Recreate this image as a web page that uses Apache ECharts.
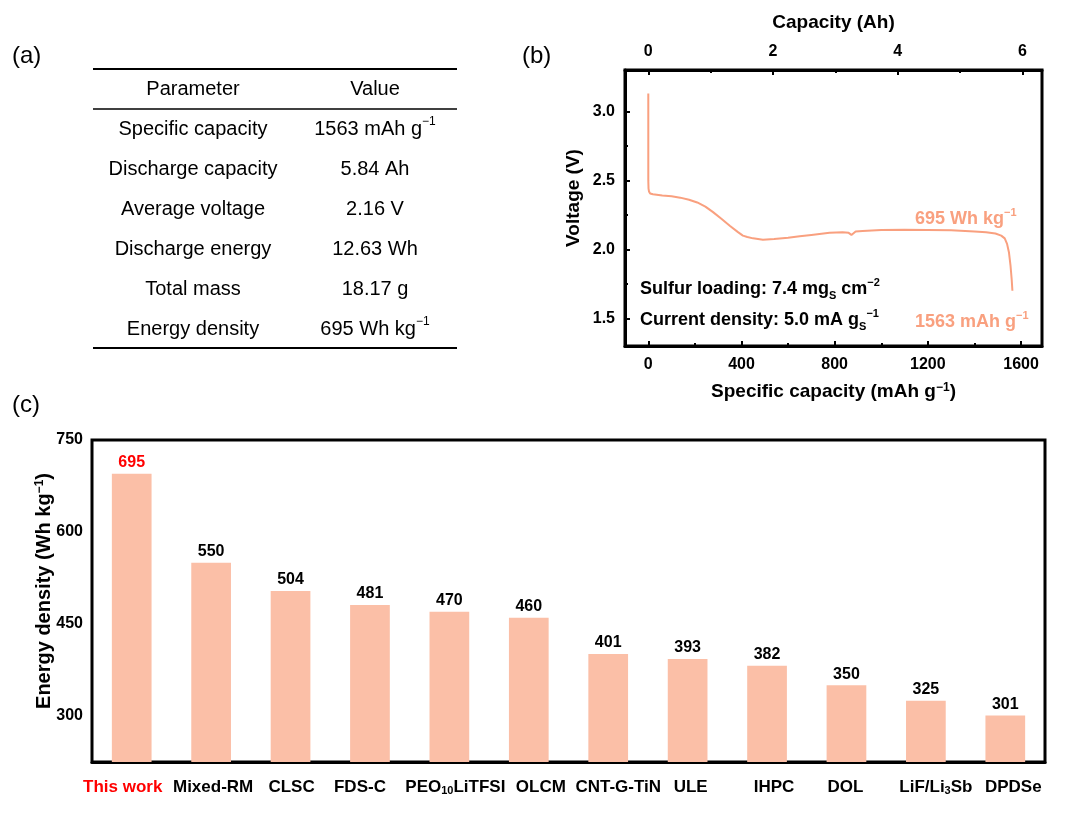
<!DOCTYPE html>
<html><head><meta charset="utf-8">
<script src="https://cdn.jsdelivr.net/npm/echarts@6/dist/echarts.min.js"></script>
<style>html,body{margin:0;padding:0;background:#fff}#c{width:1080px;height:822px}</style>
</head><body><div id="c"></div>
<script>
// ---------- data ----------
const tableHeader = ['Parameter', 'Value'];
const tableParams = ['Specific capacity', 'Discharge capacity', 'Average voltage', 'Discharge energy', 'Total mass', 'Energy density'];
const tableValues = ['1563 mAh g^{−1}', '5.84 Ah', '2.16 V', '12.63 Wh', '18.17 g', '695 Wh kg^{−1}'];

const specCapacity = [0, 0, 0, 1, 3, 8, 20, 60, 100, 137, 175, 210, 245, 278, 315, 351, 385, 406, 425, 450, 492, 540, 600, 650, 700, 778, 834, 860, 872, 880, 890, 920, 1000, 1100, 1200, 1300, 1400, 1450, 1490, 1515, 1530, 1540, 1548, 1555, 1560, 1563];
const voltage = [3.13, 2.8, 2.5, 2.44, 2.42, 2.405, 2.40, 2.39, 2.385, 2.375, 2.36, 2.34, 2.31, 2.27, 2.22, 2.17, 2.125, 2.10, 2.09, 2.08, 2.07, 2.075, 2.085, 2.095, 2.105, 2.12, 2.125, 2.12, 2.105, 2.11, 2.13, 2.133, 2.14, 2.142, 2.14, 2.138, 2.13, 2.125, 2.115, 2.10, 2.08, 2.04, 1.98, 1.88, 1.78, 1.70];
const capTicks = [0, 400, 800, 1200, 1600];
const capMinorTicks = [200, 600, 1000, 1400];
const ahTicks = [0, 2, 4, 6];
const ahMinorTicks = [1, 3, 5];
const voltTicks = [1.5, 2.0, 2.5, 3.0];
const voltMinorTicks = [1.75, 2.25, 2.75];
const dischargeAh = 5.84, specificCap = 1563;

const categories = ['This work', 'Mixed-RM', 'CLSC', 'FDS-C', 'PEO_{10}LiTFSI', 'OLCM', 'CNT-G-TiN', 'ULE', 'IHPC', 'DOL', 'LiF/Li_{3}Sb', 'DPDSe'];
const energyDensity = [695, 550, 504, 481, 470, 460, 401, 393, 382, 350, 325, 301];
const energyTicks = [300, 450, 600, 750];
const energyMinorTicks = [375, 525, 675];

// label nudges (style only, px): horizontal offset of each category label
const labelShift = [-9, 2, 1, -10, 6, 12, 10, 3, 7, -1, 10, 8];

// ---------- helpers ----------
const FONT = '"Liberation Sans", Arial, Helvetica, sans-serif';
const LINE = '#F9A07F', BAR = '#FBBFA7', RED = '#FF0000';
function mk(s, style) {
  const st = style || '';
  const parts = s.split(/(_\{[^}]*\}|\^\{[^}]*\})/).filter(p => p.length);
  return parts.map(p => {
    let m;
    if ((m = p.match(/^_\{([^}]*)\}$/))) return '{sub|' + m[1] + '}';
    if ((m = p.match(/^\^\{([^}]*)\}$/))) return '{sup|' + m[1] + '}';
    return st ? '{' + st + '|' + p + '}' : p;
  }).join('');
}
function richSet(size, color, weight) {
  const small = Math.round(size * 0.62);
  return {
    sup: { fontSize: small, lineHeight: small, verticalAlign: 'top', color: color, fontWeight: weight, fontFamily: FONT },
    sub: { fontSize: small, lineHeight: small, verticalAlign: 'bottom', color: color, fontWeight: weight, fontFamily: FONT },
    red: { fontSize: size, color: RED, fontWeight: weight, fontFamily: FONT }
  };
}
const f = dischargeAh / specificCap;
const xMin = -100, xMax = 1690;

// ---------- table & annotation graphics ----------
const graphic = [];
const tL = 93, tR = 457, c1 = 193, c2 = 375;
[[69, 2], [109, 1.6], [348, 2]].forEach(([y, w]) => graphic.push({ type: 'line', shape: { x1: tL, y1: y, x2: tR, y2: y }, style: { stroke: '#000', lineWidth: w } }));
function tText(txt, x, y, size, weight, color, align) {
  return { type: 'text', z: 10, style: { text: mk(txt), x: x, y: y, align: align || 'center', verticalAlign: 'middle', fill: color || '#000', fontSize: size, fontWeight: weight || 'normal', fontFamily: FONT, lineHeight: size + 6, rich: richSet(size, color || '#000', weight || 'normal') } };
}
graphic.push(tText(tableHeader[0], c1, 89, 20));
graphic.push(tText(tableHeader[1], c2, 89, 20));
tableParams.forEach((p, i) => {
  graphic.push(tText(p, c1, 129 + i * 40, 20));
  graphic.push(tText(tableValues[i], c2, 129 + i * 40, 20));
});
graphic.push(tText('(a)', 12, 56, 24, 'normal', '#000', 'left'));
graphic.push(tText('(b)', 522, 56, 24, 'normal', '#000', 'left'));
graphic.push(tText('(c)', 12, 405, 24, 'normal', '#000', 'left'));
graphic.push(tText('Sulfur loading: 7.4 mg_{S} cm^{−2}', 640, 289, 18, 'bold', '#000', 'left'));
graphic.push(tText('Current density: 5.0 mA g_{S}^{−1}', 640, 320, 18, 'bold', '#000', 'left'));
graphic.push(tText('695 Wh kg^{−1}', 915, 219, 18, 'bold', LINE, 'left'));
graphic.push(tText('1563 mAh g^{−1}', 915, 322, 18, 'bold', LINE, 'left'));

// ---------- chart ----------
const axisLineStyle = { color: '#000', width: 3 };
const tickLbl = { fontSize: 16, fontWeight: 'bold', color: '#000', fontFamily: FONT };
const nameStyle = { fontSize: 19, fontWeight: 'bold', color: '#000', fontFamily: FONT };
const catRich = richSet(17, '#000', 'bold');
labelShift.forEach((s, i) => {
  const base = { fontSize: 17, fontWeight: 'bold', color: i === 0 ? RED : '#000', fontFamily: FONT };
  catRich['w' + i] = Object.assign({}, base);
  catRich['l' + i] = Object.assign({}, base, { padding: [0, 0, 0, s > 0 ? 2 * s : 0] });
  catRich['r' + i] = Object.assign({}, base, { padding: [0, s < 0 ? -2 * s : 0, 0, 0] });
});
function catLabel(v, i) {
  const toks = mk(v, 'w' + i).match(/\{[^|}]+\|[^}]*\}/g);
  const body = t => t.replace(/^\{[^|]+\|/, '').replace(/\}$/, '');
  if (toks.length === 1) {
    return (labelShift[i] >= 0 ? '{l' : '{r') + i + '|' + body(toks[0]) + '}';
  }
  const first = toks[0], last = toks[toks.length - 1];
  const fx = first.startsWith('{w') ? '{l' + i + '|' + body(first) + '}' : first;
  const lx = last.startsWith('{w') ? '{r' + i + '|' + body(last) + '}' : last;
  return fx + toks.slice(1, -1).join('') + lx;
}

const option = {
  animation: false,
  backgroundColor: '#fff',
  textStyle: { fontFamily: FONT },
  grid: [
    { left: 625, right: 38, top: 70, bottom: 476, show: true, borderColor: '#000', borderWidth: 3 },
    { left: 92, right: 35, top: 440, bottom: 60, show: true, borderColor: '#000', borderWidth: 3 }
  ],
  xAxis: [
    { type: 'value', gridIndex: 0, position: 'bottom', min: xMin, max: xMax,
      axisLine: { onZero: false, lineStyle: axisLineStyle }, splitLine: { show: false },
      axisTick: { inside: true, length: 5, lineStyle: { width: 2, color: '#000' }, customValues: capTicks },
      axisLabel: Object.assign({ margin: 11, customValues: capTicks, formatter: v => String(v) }, tickLbl),
      name: mk('Specific capacity (mAh g^{−1})'), nameLocation: 'middle', nameGap: 36,
      nameTextStyle: Object.assign({ rich: richSet(19, '#000', 'bold') }, nameStyle) },
    { type: 'value', gridIndex: 0, position: 'top', min: xMin * f, max: xMax * f,
      axisLine: { onZero: false, lineStyle: axisLineStyle }, splitLine: { show: false },
      axisTick: { inside: true, length: 5, lineStyle: { width: 2, color: '#000' }, customValues: ahTicks },
      axisLabel: Object.assign({ margin: 10, customValues: ahTicks, formatter: v => String(v) }, tickLbl),
      name: 'Capacity (Ah)', nameLocation: 'middle', nameGap: 38, nameTextStyle: nameStyle },
    { type: 'value', gridIndex: 0, position: 'bottom', min: xMin, max: xMax,
      axisLine: { show: false, onZero: false }, splitLine: { show: false }, axisLabel: { show: false },
      axisTick: { inside: true, length: 3, lineStyle: { width: 2, color: '#000' }, customValues: capMinorTicks } },
    { type: 'value', gridIndex: 0, position: 'top', min: xMin * f, max: xMax * f,
      axisLine: { show: false, onZero: false }, splitLine: { show: false }, axisLabel: { show: false },
      axisTick: { inside: true, length: 3, lineStyle: { width: 2, color: '#000' }, customValues: ahMinorTicks } },
    { type: 'category', gridIndex: 1, data: categories,
      axisLine: { onZero: false, lineStyle: axisLineStyle }, axisTick: { show: false },
      axisLabel: { margin: 17, interval: 0, fontSize: 17, fontWeight: 'bold', color: '#000', fontFamily: FONT,
        formatter: catLabel, rich: catRich } }
  ],
  yAxis: [
    { type: 'value', gridIndex: 0, position: 'left', min: 1.3, max: 3.3,
      axisLine: { onZero: false, lineStyle: axisLineStyle }, splitLine: { show: false },
      axisTick: { inside: true, length: 5, lineStyle: { width: 2, color: '#000' }, customValues: voltTicks },
      axisLabel: Object.assign({ margin: 10, customValues: voltTicks, formatter: v => v.toFixed(1) }, tickLbl),
      name: 'Voltage (V)', nameLocation: 'middle', nameGap: 42,
      nameTextStyle: Object.assign({ padding: [0, 0, 0, 20] }, nameStyle) },
    { type: 'value', gridIndex: 0, position: 'left', min: 1.3, max: 3.3,
      axisLine: { show: false, onZero: false }, splitLine: { show: false }, axisLabel: { show: false },
      axisTick: { inside: true, length: 3, lineStyle: { width: 2, color: '#000' }, customValues: voltMinorTicks } },
    { type: 'value', gridIndex: 1, position: 'left', min: 225, max: 750,
      axisLine: { onZero: false, lineStyle: axisLineStyle }, splitLine: { show: false },
      axisTick: { length: 5, lineStyle: { width: 2, color: '#000' }, customValues: energyTicks },
      axisLabel: Object.assign({ margin: 9, customValues: energyTicks }, tickLbl),
      name: mk('Energy density (Wh kg^{−1})'), nameLocation: 'middle', nameGap: 38, nameMoveOverlap: false,
      nameTextStyle: Object.assign({ padding: [0, 0, 0, 20], rich: richSet(20, '#000', 'bold') }, nameStyle, { fontSize: 20 }) },
    { type: 'value', gridIndex: 1, position: 'left', min: 225, max: 750,
      axisLine: { show: false, onZero: false }, splitLine: { show: false }, axisLabel: { show: false },
      axisTick: { length: 3, lineStyle: { width: 2, color: '#000' }, customValues: energyMinorTicks } }
  ],
  series: [
    { type: 'line', xAxisIndex: 0, yAxisIndex: 0, showSymbol: false, symbol: 'none',
      data: specCapacity.map((x, i) => [x, voltage[i]]),
      lineStyle: { color: LINE, width: 2 }, itemStyle: { color: LINE } },
    { type: 'bar', xAxisIndex: 4, yAxisIndex: 2, barWidth: '50%',
      itemStyle: { color: BAR },
      label: { show: true, position: 'top', distance: 3, fontSize: 16, fontWeight: 'bold', color: '#000', fontFamily: FONT },
      data: energyDensity.map((v, i) => i === 0 ? { value: v, label: { color: RED } } : v) }
  ],
  graphic: graphic
};
const chart = echarts.init(document.getElementById('c'), null, { renderer: 'canvas' });
chart.setOption(option);
</script></body></html>
